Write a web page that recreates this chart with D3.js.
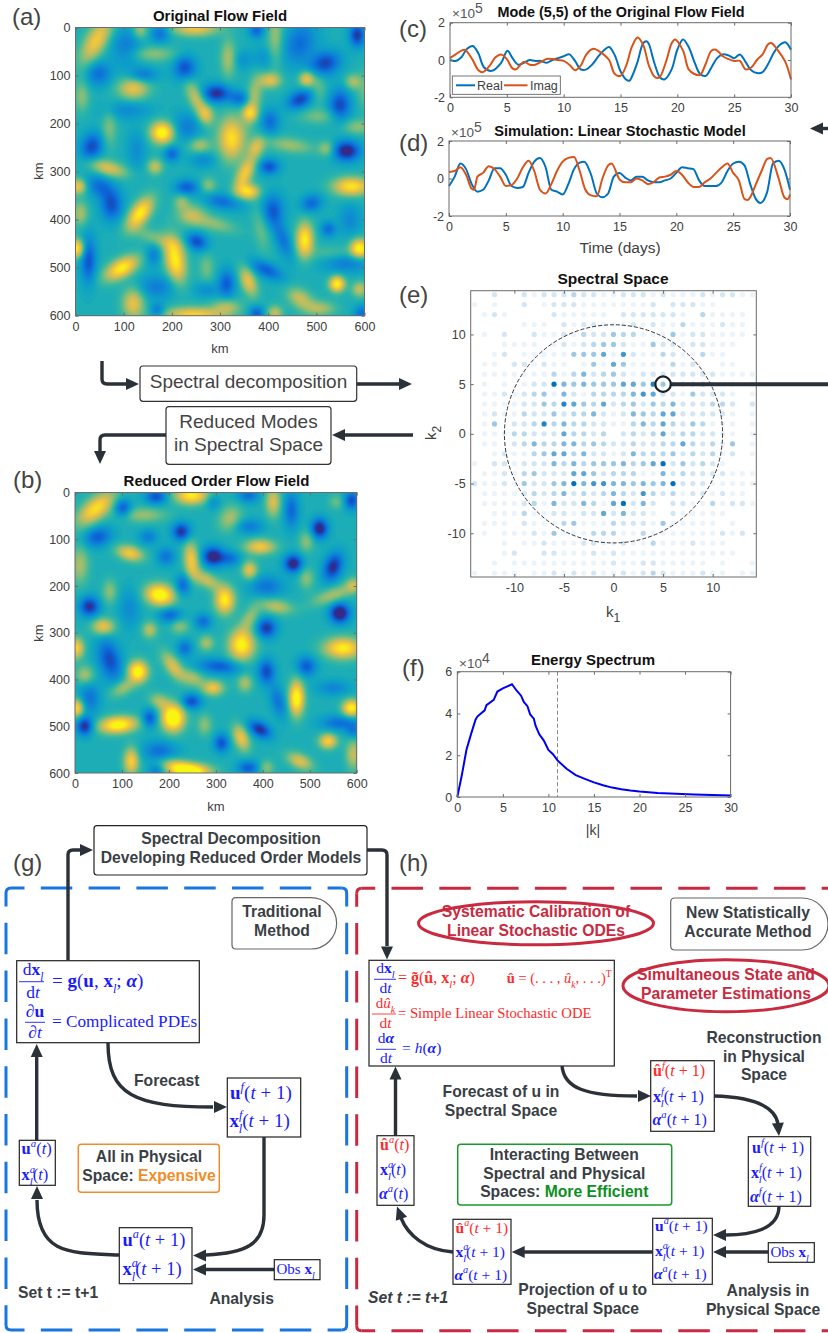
<!DOCTYPE html>
<html><head><meta charset="utf-8">
<script src="https://cdn.jsdelivr.net/npm/d3@7"></script>
<style>html,body{margin:0;padding:0;background:#fff}svg{display:block;font-family:"Liberation Sans",Arial,sans-serif}</style>
</head><body><svg id="chart" width="828" height="1333"></svg>
<script>
// ---------- DATA ----------
// flow field features: [x km, y km, strength, spread along, spread across, tilt deg]
const fieldBase = 0.43;
const originalHigh = [[44,26,.42,14,35,30],[248,2,.4,30,10,0],[134,5,.25,8,12,0],[120,127,.38,20,14,0],[160,55,.2,30,6,0],[317,64,.25,10,25,0],[415,15,.22,8,40,0],[404,110,.35,14,10,0],[480,107,.4,9,6,0],[576,113,.25,6,6,0],[369,151,.28,8,30,10],[362,179,.3,10,10,0],[252,151,.32,10,28,-25],[272,182,.25,10,12,0],[180,219,.62,15,14,0],[324,231,.5,17,28,0],[258,245,.25,14,6,0],[445,245,.22,30,5,8],[521,252,.22,5,6,0],[352,304,.42,10,25,25],[376,248,.3,5,14,25],[359,342,.48,14,9,0],[68,293,.35,25,8,15],[165,290,.3,8,7,0],[573,331,.52,24,12,0],[6,331,.4,9,9,0],[10,387,.25,10,16,0],[134,387,.55,12,24,35],[220,363,.2,10,10,0],[240,390,.25,18,14,0],[286,408,.2,30,6,15],[476,442,.55,11,22,0],[2,460,.55,8,12,0],[590,460,.6,12,12,0],[96,501,.55,24,12,-30],[207,484,.55,13,30,-10],[359,529,.38,9,20,-20],[543,534,.58,10,9,0],[590,545,.3,8,8,0],[120,574,.38,14,20,0],[245,598,.45,40,10,0],[314,581,.25,18,10,0],[466,564,.3,18,12,30],[507,585,.25,20,8,0],[414,595,.3,10,10,0],[13,144,.2,10,20,0],[587,207,.2,20,8,0],[276,328,.2,10,7,0],[505,185,.16,25,8,0],[505,125,.14,8,20,0],[600,130,.14,10,25,0],[385,420,.14,10,30,-10],[272,500,.16,10,18,0],[170,440,.18,30,7,20],[530,470,.1,30,8,0],[70,210,.18,8,25,0]];
const originalLow = [[48,96,-.25,16,16,0],[106,40,-.2,20,25,0],[176,12,-.25,12,12,0],[227,85,-.35,14,16,0],[141,99,-.22,18,6,0],[293,137,-.42,18,12,0],[341,148,-.25,14,10,0],[376,6,-.27,10,8,0],[390,64,-.12,14,14,0],[348,68,-.12,12,12,0],[466,33,-.25,20,28,20],[518,75,-.37,20,15,-20],[585,16,-.4,9,15,0],[466,150,-.37,17,11,-25],[549,162,-.36,14,20,0],[404,196,-.25,12,16,0],[34,248,-.35,14,18,20],[106,172,-.15,30,12,0],[231,207,-.2,18,18,0],[200,263,-.27,8,9,0],[127,255,-.14,12,25,0],[265,276,-.15,16,8,0],[402,290,-.33,13,10,0],[563,257,-.48,17,13,0],[231,333,-.3,15,9,0],[75,370,-.33,14,20,0],[51,331,-.25,18,14,30],[307,363,-.25,24,8,10],[410,380,-.3,14,20,0],[431,442,-.23,10,26,-20],[490,366,-.27,14,11,-20],[525,420,-.25,8,8,0],[570,400,-.16,14,20,0],[252,446,-.35,14,11,25],[162,474,-.2,8,14,0],[27,484,-.33,9,30,0],[397,505,-.3,22,10,25],[314,533,-.3,11,18,0],[169,540,-.2,25,15,0],[376,596,-.3,10,10,0],[562,491,-.2,30,12,0],[595,595,-.25,8,8,0],[272,546,-.14,16,10,0],[170,590,-.25,8,10,0]];
const reducedHigh = [[45,34,.5,14,30,50],[248,6,.55,22,12,0],[117,130,.42,18,10,15],[248,144,.42,8,24,-5],[280,187,.3,20,8,30],[319,230,.55,13,18,0],[181,219,.65,19,14,10],[394,116,.42,20,10,0],[372,166,.38,8,12,0],[330,55,.25,14,18,30],[422,20,.35,8,20,0],[557,20,.15,10,10,0],[493,105,.2,10,14,0],[493,184,.2,6,14,0],[550,219,.25,30,7,-20],[593,198,.25,10,10,0],[74,212,.2,8,16,0],[429,244,.28,22,7,10],[372,269,.22,8,20,30],[355,326,.58,17,20,0],[280,322,.25,7,10,0],[60,287,.4,15,11,0],[159,294,.28,9,11,0],[223,287,.2,12,5,0],[3,333,.45,9,14,0],[571,333,.55,25,14,0],[21,390,.25,12,12,0],[134,383,.62,13,14,0],[102,418,.25,18,8,-30],[209,372,.35,8,22,-35],[294,418,.4,14,9,0],[251,397,.25,16,7,25],[362,408,.25,9,12,0],[472,440,.62,10,23,0],[3,461,.5,7,12,0],[589,461,.58,12,11,0],[92,497,.62,25,11,-5],[209,482,.72,15,18,0],[180,447,.25,14,7,25],[276,497,.2,8,14,0],[354,525,.4,8,18,-20],[539,532,.45,12,10,0],[120,575,.45,10,18,0],[223,589,.45,25,10,15],[252,596,.5,25,9,0],[479,575,.35,18,9,25],[408,589,.2,10,10,0],[593,560,.3,8,20,0],[10,155,.25,12,25,0],[145,48,.22,30,7,0]];
const reducedLow = [[49,95,-.3,18,13,-15],[102,34,-.33,11,12,0],[173,9,-.33,14,10,0],[227,84,-.42,12,12,0],[156,95,-.2,12,10,0],[294,137,-.48,14,13,0],[330,141,-.23,14,10,0],[194,137,-.23,12,12,0],[372,73,-.2,18,10,0],[294,20,-.16,8,10,0],[369,6,-.25,14,8,0],[461,38,-.27,10,24,0],[521,77,-.48,11,13,0],[589,17,-.35,9,12,0],[465,152,-.48,12,12,0],[550,159,-.43,12,19,20],[408,201,-.23,22,14,0],[230,198,-.27,10,14,0],[31,244,-.42,13,13,0],[116,248,-.15,14,25,0],[202,262,-.27,15,10,0],[273,276,-.25,11,10,0],[408,290,-.4,13,13,0],[564,258,-.54,13,13,0],[234,333,-.25,10,11,0],[74,358,-.35,15,28,-15],[308,372,-.3,28,10,5],[408,383,-.35,11,16,0],[433,447,-.23,10,22,-15],[493,372,-.31,13,13,0],[550,418,-.17,22,10,0],[248,447,-.35,13,10,0],[159,483,-.33,9,12,0],[21,500,-.44,11,12,0],[31,440,-.23,14,20,0],[394,507,-.42,16,10,30],[564,493,-.25,25,8,0],[312,536,-.33,10,12,0],[180,554,-.25,22,14,0],[369,589,-.3,14,10,0],[173,596,-.2,10,8,0],[593,511,-.2,10,10,0]];
const parulaStops = ["#352a87","#0363e1","#1485d4","#06a7c6","#38b99e","#92bf73","#d9ba56","#fcce2e","#f9fb0e"];
const kmTicks = [0,100,200,300,400,500,600];

const cRealT=[0,.5,1,1.5,2,2.5,3,3.67,4.5,5.05,5.5,6,6.5,7,7.5,8,8.5,9,9.5,10,10.5,11,11.5,12,12.5,13,13.5,14,14.5,15,15.5,15.8,16,16.5,17,17.3,17.5,18,18.5,18.9,19.5,20,20.5,21,21.5,22,22.5,23,23.5,24,24.5,25,25.5,26,26.5,27,27.5,28,28.5,29,29.5,30];
const cRealV=[0,-.05,.15,.6,.75,.35,-.4,-.58,-.15,.5,.1,-.25,-.15,0,-.05,-.05,-.15,0,.1,.2,.3,-.05,-.5,-.5,-.25,.15,.5,.7,.25,-.6,-1.05,-1.1,-.9,-.1,.9,1,.85,-.2,-.95,-1.03,-.5,.55,1.1,.7,-.1,-.75,-.85,-.4,.1,.3,.25,.1,.3,-.1,-.55,-.7,-.65,-.2,.4,.8,.95,.55];
const cImagT=[0,.5,1,1.3,1.5,2,2.5,2.9,3.5,4,4.5,5,5.5,5.8,6.5,7,7.5,8,8.5,9,9.5,10,10.5,11,11.5,12,12.6,13.5,14,14.5,15,15.5,16,16.5,17,17.5,18,18.4,19,19.5,19.8,20.5,21,21.5,22,22.5,23,23.4,24,24.5,25,25.5,26,26.5,27,27.5,28,28.3,28.8,29.5,30];
const cImagV=[.1,.3,.5,.55,.45,0,-.55,-.65,-.3,.15,.3,.05,-.45,-.5,-.1,-.25,-.25,-.1,.05,.05,0,-.05,-.25,-.55,-.3,.3,.6,.3,0,-.75,-.85,-.3,.7,1.2,.8,-.3,-.9,-.95,-.1,.9,1.1,.5,-.5,-.75,-.8,-.2,.5,.55,.2,.05,-.05,-.05,-.5,-.4,0,.3,.85,.9,.55,-.1,-1.05];
const dRealT=[0,.5,1,1.5,2,2.5,3,3.5,4,4.5,5,5.5,6,6.5,7,7.5,8,8.5,9,9.5,10,10.5,11,11.5,11.9,12.5,13,13.5,14,14.5,15,15.5,16,16.5,17,17.5,18,18.5,19,19.5,20,20.5,21,21.5,22,22.5,23,23.5,24,24.5,25,25.5,26,26.5,27,27.4,28,28.5,29,29.5,30];
const dRealV=[-.4,.1,.8,.5,-.3,-.7,-.6,-.1,.55,.55,.2,-.4,-.5,-.45,.3,.9,1.1,.6,-.6,-.7,-.85,-.3,.5,.85,.9,.2,-.8,-1,-.8,.1,.3,.05,-.1,.1,.1,-.1,-.2,-.2,-.1,0,.3,.6,.55,.5,-.1,-.4,-.4,-.4,-.2,.4,.8,.9,.7,-.3,-1.1,-1.3,-.7,.8,.95,.5,-.6];
const dImagT=[0,.5,1,1.5,2,2.2,2.5,3,3.5,4,4.5,5,5.5,6,6.5,7,7.5,8,8.5,9,9.5,10,10.5,11,11.5,12,12.5,13,13.5,14,14.3,15,15.5,16,16.5,17,17.5,18,18.5,19,19.5,20,20.5,21,21.5,22,22.5,23,23.5,24,24.5,25,25.5,26,26.3,26.5,27,27.5,28,28.3,29,29.5,29.8,30];
const dImagV=[.35,.4,.6,.2,-.55,-.6,.1,.3,.65,.5,.1,-.4,-.35,0,.6,.95,.4,-.6,-.8,-.3,.4,.9,1.1,1.15,.4,-.6,-.9,-.95,0,.7,.8,-.05,-.2,-.2,0,-.1,-.3,-.2,.05,.1,.2,.4,.2,-.2,-.45,-.45,-.2,0,.3,.6,.8,.3,-.1,-1.1,-1.15,-1,-.3,.4,1.05,1.1,0,-1,-1.1,-.85];
const timeTicks=[0,5,10,15,20,25,30];
const modeTicks=[-2,0,2];

const waveNumbers=d3.range(-14,15);
const waveTicks=[-10,-5,0,5,10];
// dot strength 0-9, one row per k2 from 14 down to -14, one digit per k1 from -14 to 14
const spectralRows=[
"00200 21222 32211 22212 11121 2211","10100 20122 21111 11120 22211 0000","01210 00021 11110 22222 21031 1110","00000 11102 12211 12121 13111 2110","01020 02112 13224 33111 41221 1110",
"00011 11012 12344 21142 21221 1100","00120 11111 44461 72113 21131 1000","01102 21211 01416 41111 31200 1100","01111 11131 35234 21222 22222 1111","01010 12295 45444 66484 22231 0101",
"01121 23415 21333 35762 21422 2101","01111 22438 64362 34243 52223 3202","01211 32242 33521 25436 62222 2101","01402 23835 33221 13536 32431 1101","01113 32226 33230 23236 23322 1101",
"01102 35335 53432 23223 36323 1401","00121 13466 35221 25333 42323 1201","10221 22253 53444 53469 24232 1000","01121 34222 66423 33115 23222 2111","21121 42245 95775 54545 92221 1111",
"01111 23235 23235 32732 31221 2110","01111 23152 25316 92520 22113 1221","00111 31122 12262 52210 21111 1000","01110 21113 41113 22214 11111 0100","01011 12141 11333 11311 11111 2120",
"00010 11211 12211 21131 11211 1000","00012 00221 11212 11111 11111 1100","00101 11111 11112 11221 11110 1001","10111 01121 21211 21232 11121 1011"];

const energyK=[0,.5,1,1.5,2,2.2,3,3.2,4,4.4,5,5.5,6,6.5,7,7.3,7.7,8,8.4,8.6,9,9.5,10,10.5,11,12,13,14,15,16,17,18,19,20,22,24,26,28,30];
const energyV=[0,1.05,2.25,3,3.7,3.85,4.15,4.4,4.65,5.05,5.2,5.3,5.4,5.1,4.85,4.55,4.35,3.95,3.75,3.4,3,2.7,2.25,2.05,1.75,1.35,1.05,.87,.7,.56,.45,.37,.31,.26,.19,.15,.12,.09,.07];
const energyTicksX=[0,5,10,15,20,25,30];
const energyTicksY=[0,2,4,6];

// ---------- HELPERS ----------
const svg=d3.select("#chart");
const INK="#2b3138", TEXT="#3a3f45", BLUE="#1a1aff", RED="#ff2a2a", TICK="#404040", FRAME="#6b6b6b";
const SERIF='"Liberation Serif",serif';
function txt(x,y,s,o={}){return svg.append("text").attr("x",x).attr("y",y).attr("dy",".35em")
  .attr("text-anchor",o.a||"middle").attr("font-size",o.size||15.7).attr("font-weight",o.w||"bold")
  .attr("font-style",o.style||"normal").attr("fill",o.fill||TEXT).text(s);}
function frame(g,x,y,w,h){g.append("rect").attr("x",x).attr("y",y).attr("width",w).attr("height",h).attr("fill","none").attr("stroke",FRAME).attr("stroke-width",1);}
function styleAxis(sel){sel.select(".domain").remove();
  sel.selectAll(".tick line").attr("stroke",FRAME);
  sel.selectAll(".tick text").attr("fill",TICK).attr("font-size",12.5).attr("font-family",'"Liberation Sans",sans-serif');}
function axes(x,y,xt,yt,g){ // MATLAB-style box with inward ticks
  const [x0,x1]=x.range(), ys=y.range(), yt0=Math.max(...ys), yt1=Math.min(...ys);
  const mk=(a,t)=>a.tickValues(t).tickSizeInner(-3).tickSizeOuter(0).tickFormat(String);
  g.append("g").attr("transform",`translate(0,${yt0})`).call(mk(d3.axisBottom(x),xt).tickPadding(6)).call(styleAxis);
  g.append("g").attr("transform",`translate(0,${yt1})`).call(mk(d3.axisTop(x),xt).tickFormat("")).call(styleAxis);
  g.append("g").attr("transform",`translate(${x0},0)`).call(mk(d3.axisLeft(y),yt).tickPadding(5)).call(styleAxis);
  g.append("g").attr("transform",`translate(${x1},0)`).call(mk(d3.axisRight(y),yt).tickFormat("")).call(styleAxis);
  frame(g,x0,yt1,x1-x0,yt0-yt1);
}
function exp10(x,y,p){const t=svg.append("text").attr("x",x).attr("y",y).attr("font-size",13.5).attr("fill","#555").text("×10");
  t.append("tspan").attr("dy",-5).attr("font-size",14).text(p);}

// heat map drawn as filled contour bands
function field(id,base,blobs,x,y){
  const n=150, vals=new Float64Array(n*n);
  const bs=blobs.map(b=>{const r=b[5]*Math.PI/180;return{x:b[0],y:b[1],a:b[2],sx:Math.max(b[3],10)*1.12,sy:Math.max(b[4],10)*1.12,c:Math.cos(r),s:Math.sin(r)};});
  for(let j=0;j<n;j++)for(let i=0;i<n;i++){
    const px=(i+.5)*600/n,py=(j+.5)*600/n;let v=base;
    for(const b of bs){const dx=px-b.x,dy=py-b.y,u=dx*b.c+dy*b.s,w=-dx*b.s+dy*b.c;
      const e=(u*u)/(2*b.sx*b.sx)+(w*w)/(2*b.sy*b.sy); if(e<12)v+=b.a*Math.exp(-e);}
    vals[j*n+i]=Math.max(0,Math.min(1,v));
  }
  const thresholds=d3.range(0,1,1/64);
  const color=d3.scaleSequential(d3.interpolateRgbBasis(parulaStops)).domain([0,1]);
  const proj=d3.geoTransform({point(a,b){this.stream.point(x(a*600/n),y(b*600/n));}});
  const path=d3.geoPath(proj);
  const [x0,x1]=x.range(),[y0,y1]=y.range();
  svg.append("clipPath").attr("id",id).append("rect").attr("x",x0).attr("y",y0).attr("width",x1-x0).attr("height",y1-y0);
  svg.append("g").attr("clip-path",`url(#${id})`).selectAll("path")
    .data(d3.contours().size([n,n]).smooth(true).thresholds(thresholds)(vals)).join("path")
    .attr("d",path).attr("fill",d=>color(d.value));
}

function connector(d,tip,ang,w=3.4){ // line with triangular arrow head; ang = direction in degrees
  const L=13,H=6,r=ang*Math.PI/180,c=Math.cos(r),s=Math.sin(r);
  if(d)svg.append("path").attr("d",d).attr("fill","none").attr("stroke",INK).attr("stroke-width",w);
  if(tip){const bx=tip[0]-L*c,by=tip[1]-L*s;
    svg.append("path").attr("d",`M${tip[0]},${tip[1]}L${bx-H*s},${by+H*c}L${bx+H*s},${by-H*c}Z`).attr("fill",INK);}
}
function box(x,y,w,h,o={}){return svg.append("rect").attr("x",x).attr("y",y).attr("width",w).attr("height",h)
  .attr("rx",o.rx||0).attr("fill",o.fill||"#fff").attr("stroke",o.stroke||"#222").attr("stroke-width",o.sw||1.2);}
function dashedFrame(x0,y0,x1,y1,col){ // every side starts its dash pattern from the corner it leaves
  const R=5, sides=[`M${x0+R},${y0}H${x1-R}`,`M${x0},${y0+R}V${y1-R}`,`M${x1},${y0+R}V${y1-R}`,`M${x0+R},${y1}H${x1-R}`];
  sides.forEach(d=>svg.append("path").attr("d",d).attr("fill","none").attr("stroke",col).attr("stroke-width",3).attr("stroke-dasharray","31.5 16.3").attr("stroke-dashoffset",18));
  [`M${x0},${y0+R}Q${x0},${y0} ${x0+R},${y0}`,`M${x1-R},${y0}Q${x1},${y0} ${x1},${y0+R}`,`M${x0},${y1-R}Q${x0},${y1} ${x0+R},${y1}`,`M${x1-R},${y1}Q${x1},${y1} ${x1},${y1-R}`]
   .forEach(d=>svg.append("path").attr("d",d).attr("fill","none").attr("stroke",col).attr("stroke-width",3));
}

// math text: segments [text, flags, colour, dx-em]; flags b bold, i italic, ^ sup, _ sub
function math(x,y,segs,size,color,anchor){
  const t=svg.append("text").attr("x",x).attr("y",y).attr("font-family",SERIF).attr("font-size",size).attr("fill",color).attr("text-anchor",anchor||"start");
  let shift=0;
  segs.forEach(s=>{
    const sg=typeof s==="string"?[s,""]:s, f=sg[1]||"";
    const up=f.includes("^")?-.44*size:f.includes("_")?.32*size:0;
    const sp=t.append("tspan").text(sg[0]).attr("dy",up-shift);
    shift=up;
    if(up)sp.attr("font-size",size*.66);
    if(f.includes("b"))sp.attr("font-weight","bold");
    if(f.includes("i"))sp.attr("font-style","italic");
    if(sg[2])sp.attr("fill",sg[2]);
    if(sg[3])sp.attr("dx",sg[3]+"em");
  });
  return t;
}
const arg1=[["("],["t","i"],[" + 1)"]], arg0=[["("],["t","i"],[")"]];
const U=(sup,a,c)=>[["u","b",c],[sup,"^i",c],...a.map(s=>[s[0],s[1],c])];
const H=(sup,a,c)=>[["û","b",c],[sup,"^i",c],...a.map(s=>[s[0],s[1],c])];
const X=(sup,a,c)=>[["x","b",c],[sup,"^i",c],["l","_i",c,sup==="f"?-.3:-.5],...a.map(s=>[s[0],s[1],c])];
const A=(sup,a,c)=>[["α","bi",c],[sup,"^i",c],...a.map(s=>[s[0],s[1],c])];
function fracBar(x1,x2,y,c){svg.append("line").attr("x1",x1).attr("x2",x2).attr("y1",y).attr("y2",y).attr("stroke",c).attr("stroke-width",.9);}

// ---------- PANELS a, b ----------
const ax=d3.scaleLinear().domain([0,600]).range([75.5,364.5]), ay=d3.scaleLinear().domain([0,600]).range([27.5,315.7]);
field("clipA",fieldBase,originalHigh.concat(originalLow),ax,ay);
axes(ax,ay,kmTicks,kmTicks,svg.append("g"));
txt(220,16,"Original Flow Field",{size:15,fill:"#111"});
txt(220,348,"km",{size:13,w:"normal",fill:TICK});
svg.append("text").attr("transform","translate(38,171) rotate(-90)").attr("dy",".35em").attr("text-anchor","middle").attr("font-size",13).attr("fill",TICK).text("km");
const bx=d3.scaleLinear().domain([0,600]).range([75,356.7]), by=d3.scaleLinear().domain([0,600]).range([492.5,773]);
field("clipB",fieldBase,reducedHigh.concat(reducedLow),bx,by);
axes(bx,by,kmTicks,kmTicks,svg.append("g"));
txt(216.5,481,"Reduced Order Flow Field",{size:15,fill:"#111"});
txt(216,806,"km",{size:13,w:"normal",fill:TICK});
svg.append("text").attr("transform","translate(38,633) rotate(-90)").attr("dy",".35em").attr("text-anchor","middle").attr("font-size",13).attr("fill",TICK).text("km");

// ---------- PANELS c, d ----------
function series(xr,yr,T1,V1,T2,V2,curve){
  const x=d3.scaleLinear().domain([0,30]).range(xr), y=d3.scaleLinear().domain([-2,2]).range(yr);
  const g=svg.append("g");
  const line=d3.line().x(d=>x(d[0])).y(d=>y(d[1])).curve(curve);
  g.append("path").attr("d",line(d3.zip(T1,V1))).attr("fill","none").attr("stroke","#0072bd").attr("stroke-width",2);
  g.append("path").attr("d",line(d3.zip(T2,V2))).attr("fill","none").attr("stroke","#d95319").attr("stroke-width",2);
  axes(x,y,timeTicks,modeTicks,g);
}
series([450,791],[97.3,22.7],cRealT,cRealV,cImagT,cImagV,d3.curveCatmullRom.alpha(.5));
series([449,790],[216,141],dRealT,dRealV,dImagT,dImagV,d3.curveMonotoneX);
txt(621,12,"Mode (5,5) of the Original Flow Field",{size:14.4,fill:"#111"});
txt(620,131,"Simulation: Linear Stochastic Model",{size:14.6,fill:"#111"});
exp10(452,18,"5"); exp10(451,137,"5");
txt(620,248,"Time (days)",{size:15.5,w:"normal",fill:TICK});
box(452.3,76,108,18.3,{stroke:"#555",sw:.8});
svg.append("line").attr("x1",456).attr("x2",475).attr("y1",85.3).attr("y2",85.3).attr("stroke","#0072bd").attr("stroke-width",2);
svg.append("line").attr("x1",504).attr("x2",527.5).attr("y1",85.3).attr("y2",85.3).attr("stroke","#d95319").attr("stroke-width",2);
txt(477,85.5,"Real",{a:"start",size:12.5,w:"normal",fill:TICK});
txt(530,85.5,"Imag",{a:"start",size:12.5,w:"normal",fill:TICK});

// ---------- PANEL e ----------
const ex=d3.scaleLinear().domain([-14.4,14.4]).range([470.7,756.3]), ey=d3.scaleLinear().domain([-14.4,14.4]).range([577,290.7]);
const dots=[];
spectralRows.forEach((r,j)=>{const s=r.replace(/ /g,"");waveNumbers.forEach((k,i)=>dots.push({k1:k,k2:14-j,v:+s[i]||0}));});
svg.append("g").selectAll("circle").data(dots.filter(d=>d.v>0)).join("circle")
  .attr("cx",d=>ex(d.k1)).attr("cy",d=>ey(d.k2)).attr("r",2.6).attr("fill","#0072bd").attr("fill-opacity",d=>Math.pow(d.v/9,1.15));
axes(ex,ey,waveTicks,waveTicks,svg.append("g"));
svg.append("circle").attr("cx",ex(0)).attr("cy",ey(0)).attr("r",ex(11)-ex(0)).attr("fill","none").attr("stroke","#333").attr("stroke-width",1).attr("stroke-dasharray","4 2");
txt(613,278.7,"Spectral Space",{size:15.5,fill:"#111"});
svg.append("line").attr("x1",ex(5)+8).attr("x2",828).attr("y1",ey(5)).attr("y2",ey(5)).attr("stroke",INK).attr("stroke-width",4);
svg.append("circle").attr("cx",ex(5)).attr("cy",ey(5)).attr("r",7.7).attr("fill","none").attr("stroke","#1c1f24").attr("stroke-width",2.2);
{const t=svg.append("text").attr("x",613).attr("y",617).attr("text-anchor","middle").attr("font-size",15).attr("fill",TICK).text("k");t.append("tspan").attr("dy",5).attr("font-size",12).text("1");
 const t2=svg.append("text").attr("transform","translate(436,433) rotate(-90)").attr("text-anchor","middle").attr("font-size",15).attr("fill",TICK).text("k");t2.append("tspan").attr("dy",5).attr("font-size",12).text("2");}

// ---------- PANEL f ----------
const fx=d3.scaleLinear().domain([0,30]).range([457.3,730.6]), fy=d3.scaleLinear().domain([0,6]).range([797,671.7]);
{const g=svg.append("g");
 g.append("line").attr("x1",fx(11)).attr("x2",fx(11)).attr("y1",fy(6)).attr("y2",fy(0)).attr("stroke","#888").attr("stroke-dasharray","4 2.5").attr("stroke-width",1);
 g.append("path").attr("d",d3.line().x(d=>fx(d[0])).y(d=>fy(d[1]))(d3.zip(energyK,energyV))).attr("fill","none").attr("stroke","#0000f0").attr("stroke-width",2);
 axes(fx,fy,energyTicksX,energyTicksY,g);}
txt(593,660,"Energy Spectrum",{size:15,fill:"#111"});
exp10(459,668,"4");
txt(593,830,"|k|",{size:14,w:"normal",fill:TICK});

// ---------- PANEL LETTERS ----------
[["(a)",12,17],["(b)",13,480],["(c)",399,29],["(d)",399,143],["(e)",399,295],["(f)",402,668],["(g)",13,863],["(h)",399,863]]
 .forEach(d=>txt(d[1],d[2],d[0],{a:"start",size:24,w:"normal",fill:"#444"}));

// ---------- TOP DIAGRAM ----------
connector("M102,361V379Q102,384 107,384H127",[139,384],0);
box(140,366,216.7,35.3,{rx:3,stroke:"#333"});
txt(248.5,381.5,"Spectral decomposition",{size:19,w:"normal",fill:"#444"});
connector("M357,384H400",[412,384],0);
box(166,406.7,165,57.6,{rx:3,stroke:"#333"});
txt(248.5,421.5,"Reduced Modes",{size:19,w:"normal",fill:"#444"});
txt(248.5,444,"in Spectral Space",{size:19,w:"normal",fill:"#444"});
connector("M413,435H344",[332,435],180);
connector("M166,435H105Q100,435 100,440V451",[100,464],90);
connector("M828,128.5H822",[810,128.5],180);

// ---------- SECTION FRAMES ----------
dashedFrame(6,888,346.7,1330,"#1976e0");
dashedFrame(356.7,888.3,846,1330.7,"#c92a3f");

// middle box
connector("M68,960V855Q68,850 73,850H80",[93,850],0);
box(94,825.7,273,49.3,{rx:3,stroke:"#222"});
txt(231,839,"Spectral Decomposition");
txt(231,858,"Developing Reduced Order Models");
connector("M367,850H382Q387,850 387,855V946",[387,959.5],90);

// ---------- PANEL g ----------
svg.append("path").attr("d","M236,897.7H311A25.65,25.65 0 0 1 311,949H236Q232,949 232,945V901.7Q232,897.7 236,897.7Z").attr("fill","#fff").attr("stroke","#666").attr("stroke-width",1.2);
txt(282,912,"Traditional"); txt(282,931,"Method");
connector("M36.7,1140V1057",[36.7,1044],-90);
box(16.7,960.7,182.6,82);
fracBar(19,44,981.7,BLUE); fracBar(25,45,1022.3,BLUE);
math(33,975,[["d"],["x","b"],["l","_i"]],17.5,BLUE,"middle");
math(33,998,[["d"],["t","i"]],17.5,BLUE,"middle");
math(52,987,["= ",["g","b"],"(",["u","b"],", ",["x","b"],["l","_i"],"; ",["α","bi"],")"],19,BLUE);
math(35,1017,["∂",["u","b"]],17.5,BLUE,"middle");
math(35,1038,["∂",["t","i"]],17.5,BLUE,"middle");
math(52,1027,["= Complicated PDEs"],17.2,BLUE);
connector("M108,1043C108,1095 135,1107 213,1107",[227,1107],0);
box(227.3,1078,73.4,59);
math(230,1099,U("f",arg1),19,BLUE); math(229.5,1127,X("f",arg1),19,BLUE);
txt(166.7,1081,"Forecast");
box(78.3,1144.3,141,48,{rx:3,stroke:"#f28c28",sw:1.5});
txt(149,1157,"All in Physical");
{const t=txt(149,1176,"Space: ");t.append("tspan").attr("fill","#f28c28").text("Expensive");}
connector("M264,1137V1215C264,1245 245,1253 206,1255",[193,1255.5],180);
connector("M274,1269.5H206",[193,1269.5],180);
connector("M119,1255C70,1253 37,1255 37,1200",[37,1186],-90);
box(119.3,1227.7,72.7,56);
math(122.5,1245.7,U("a",arg1),18.5,BLUE); math(122.5,1275,X("a",arg1),18.5,BLUE);
box(19.3,1140.3,36,45);
math(21.5,1154,U("a",arg0),16.5,BLUE); math(21.5,1180,X("a",arg0),16.5,BLUE);
box(274.3,1259.7,45.7,20);
math(276.5,1274,["Obs ",["x","b"],["l","_i"]],15,BLUE);
txt(18,1293,"Set t := t+1",{a:"start"});
txt(241.7,1299,"Analysis");

// ---------- PANEL h ----------
svg.append("ellipse").attr("cx",536).attr("cy",923.3).attr("rx",117.5).attr("ry",21.5).attr("fill","#fff").attr("stroke","#c92a3f").attr("stroke-width",3);
txt(536,912,"Systematic Calibration of",{fill:"#c92a3f"}); txt(536,931,"Linear Stochastic ODEs",{fill:"#c92a3f"});
svg.append("path").attr("d","M675,898H802A26,26 0 0 1 802,950H675Q670.7,950 670.7,946V902Q670.7,898 675,898Z").attr("fill","#fff").attr("stroke","#666").attr("stroke-width",1.2);
txt(748,913,"New Statistically"); txt(748,932,"Accurate Method");
svg.append("ellipse").attr("cx",726).attr("cy",985.7).attr("rx",103).attr("ry",26).attr("fill","#fff").attr("stroke","#c92a3f").attr("stroke-width",3);
txt(726,975,"Simultaneous State and",{fill:"#c92a3f"}); txt(726,994,"Parameter Estimations",{fill:"#c92a3f"});

connector("M395.5,1136V1079",[395.5,1066.5],-90);
box(369,960.3,245.3,105.7);
fracBar(374,396,979.3,BLUE); fracBar(372,396,1014,RED); fracBar(376,396,1049.3,BLUE);
math(385.5,973,[["d"],["x","b"],["l","_i"]],15.5,BLUE,"middle");
math(385.5,993.3,[["d"],["t","i"]],15.5,BLUE,"middle");
math(398,983.3,["= ",["g̃","b"],"(",["û","b"],", ",["x","b"],["l","_i"],"; ",["α","bi"],")"],16,RED);
math(506.7,983.3,[["û","b"],"  = (. . . , ",["û","i"],["k","_i"],", . . .)",["T","^"]],14.5,RED);
math(385.5,1008,["d",["û","i"],["k","_i"]],15,RED,"middle");
math(385.5,1028,[["d"],["t","i"]],15.5,RED,"middle");
math(398,1017.7,["= Simple Linear Stochastic ODE"],14.7,RED);
math(386,1042.7,["d",["α","bi"]],15.5,BLUE,"middle");
math(386,1062.7,[["d"],["t","i"]],15.5,BLUE,"middle");
math(402,1052.7,["= ",["h","i"],"(",["α","bi"],")"],15.5,BLUE);

connector("M562,1066C564,1088 585,1096 637,1096",[651,1096],0);
box(650.7,1060.7,63.6,70.6);
math(653,1075.7,H("f",arg1,RED),16,RED); math(653,1101.7,X("f",arg1),16,BLUE); math(652.5,1125,A("a",arg1),16,BLUE);
connector("M714,1096C750,1097 775,1105 778,1124",[779,1136],85);
box(748.3,1136.7,62.4,69.6);
math(752,1152.7,U("f",arg1),16,BLUE); math(751,1178,X("f",arg1),16,BLUE); math(750,1201.7,A("f",arg1),16,BLUE);
connector("M779,1206C779,1230 750,1235 726,1235",[713,1235],180);
box(652.7,1218.3,59.6,66);
math(655,1230.7,U("a",arg1),15.5,BLUE); math(655,1256,X("a",arg1),15.5,BLUE); math(654,1279,A("a",arg1),15.5,BLUE);
box(768.3,1242.7,46,19.6);
math(770.5,1257.3,["Obs ",["x","b"],["l","_i"]],15,BLUE);
connector("M768,1252H726",[713,1252],180);
connector("M652.7,1252H524",[511.7,1252],180);
box(453,1219.3,58,65);
math(455.5,1233.3,H("a",arg1,RED),15.5,RED); math(455.5,1256.7,X("a",arg1),15.5,BLUE); math(454.5,1280,A("a",arg1),15.5,BLUE);
connector("M453,1252C425,1250 408,1235 401,1218",[397,1206.5],-110);
box(377,1135.7,37,69.6);
math(380,1150,H("a",arg0,RED),16,RED); math(380,1175,X("a",arg0),16,BLUE); math(379,1199.3,A("a",arg0),16,BLUE);
box(457.7,1144.3,214,60.7,{rx:3,stroke:"#1a9a2a",sw:1.5});
txt(564.3,1154.5,"Interacting Between"); txt(564.3,1173.5,"Spectral and Physical");
{const t=txt(564.3,1192,"Spaces: ");t.append("tspan").attr("fill","#0e8f1e").text("More Efficient");}
txt(501,1092,"Forecast of u in"); txt(501,1111,"Spectral Space");
txt(764,1037.7,"Reconstruction"); txt(764,1056.5,"in Physical"); txt(764,1075,"Space");
txt(368,1298,"Set t := t+1",{a:"start",style:"italic"});
txt(582.7,1290,"Projection of u to"); txt(582.7,1309,"Spectral Space");
txt(768,1291,"Analysis in"); txt(763,1310,"Physical Space");
</script></body></html>
